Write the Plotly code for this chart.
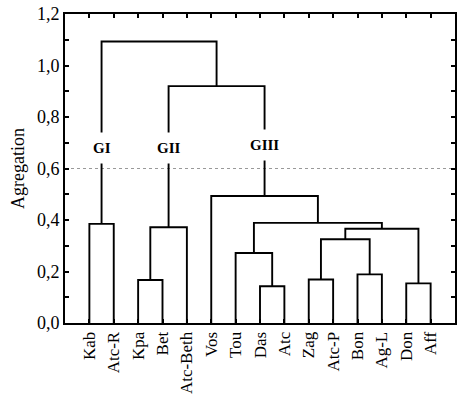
import plotly.graph_objects as go

# Leaves in dendrogram order
leaves = ["Kab", "Atc-R", "Kpa", "Bet", "Atc-Beth", "Vos", "Tou", "Das", "Atc",
          "Zag", "Atc-P", "Bon", "Ag-L", "Don", "Aff"]

# Merges: new cluster id, left child, right child, aggregation height
merge_ids = ["C1", "C2", "C3", "C4", "C5", "C6", "C7", "C8", "C9", "C10", "C11", "C12", "C13", "C14"]
merge_left = ["Kab", "Kpa", "C2", "Das", "Tou", "Zag", "Bon", "C6", "Don", "C8", "C5", "Vos", "C3", "C1"]
merge_right = ["Atc-R", "Bet", "Atc-Beth", "Atc", "C4", "Atc-P", "Ag-L", "C7", "Aff", "C9", "C10", "C11", "C12", "C13"]
merge_height = [0.385, 0.167, 0.372, 0.143, 0.272, 0.169, 0.189, 0.325, 0.154, 0.366, 0.389, 0.493, 0.920, 1.093]

# Group labels
group_names = ["GI", "GII", "GIII"]
group_nodes = ["C1", "C3", "C12"]
group_label_y = [0.678, 0.678, 0.69]

cut_level = 0.6

FONT = "Liberation Serif, Times New Roman, serif"

pos = {name: i + 1 for i, name in enumerate(leaves)}
hgt = {name: 0.0 for name in leaves}
xs, ys = [], []
for cid, a, b, h in zip(merge_ids, merge_left, merge_right, merge_height):
    xa, xb = pos[a], pos[b]
    xs += [xa, xa, xb, xb, None]
    ys += [hgt[a], h, h, hgt[b], None]
    pos[cid] = (xa + xb) / 2
    hgt[cid] = h

fig = go.Figure()
fig.add_trace(go.Scatter(x=xs, y=ys, mode="lines",
                         line=dict(color="black", width=1.9),
                         hoverinfo="skip", showlegend=False))

fig.add_shape(type="line", xref="paper", yref="y", x0=0, x1=1, y0=cut_level, y1=cut_level,
              line=dict(color="#999999", width=1, dash="dot"), layer="below")

for name, node, ly in zip(group_names, group_nodes, group_label_y):
    fig.add_annotation(x=pos[node], y=ly, text="<b>" + name + "</b>", showarrow=False,
                       font=dict(family=FONT, size=15, color="black"),
                       bgcolor="white", borderpad=7)

fig.update_layout(
    width=474, height=398,
    margin=dict(l=65, r=19, t=14, b=75),
    plot_bgcolor="white", paper_bgcolor="white",
    separators=", ",
    font=dict(family=FONT, size=18, color="black"),
    showlegend=False,
)
fig.update_xaxes(
    range=[0, 16], tickvals=list(range(1, len(leaves) + 1)), ticktext=leaves,
    tickangle=-90, ticks="inside", ticklen=4, tickwidth=1.5, tickcolor="black",
    showline=True, linecolor="black", linewidth=2, mirror="allticks",
    showgrid=False, zeroline=False, tickfont=dict(family=FONT, size=17),
    automargin=False,
)
fig.update_yaxes(
    range=[0, 1.2], dtick=0.2, tick0=0, tickformat=".1f",
    ticks="inside", ticklen=4, tickwidth=1.5, tickcolor="black",
    minor=dict(dtick=0.1, ticks="inside", ticklen=4, tickwidth=1.5, tickcolor="black"),
    showline=True, linecolor="black", linewidth=2, mirror="allticks",
    showgrid=False, zeroline=False, tickfont=dict(family=FONT, size=18),
    title=dict(text="Agregation", font=dict(family=FONT, size=18), standoff=8),
    automargin=False,
)

fig.write_html("out.html", config={"displayModeBar": False},
               post_script="document.body.style.margin='0';")
